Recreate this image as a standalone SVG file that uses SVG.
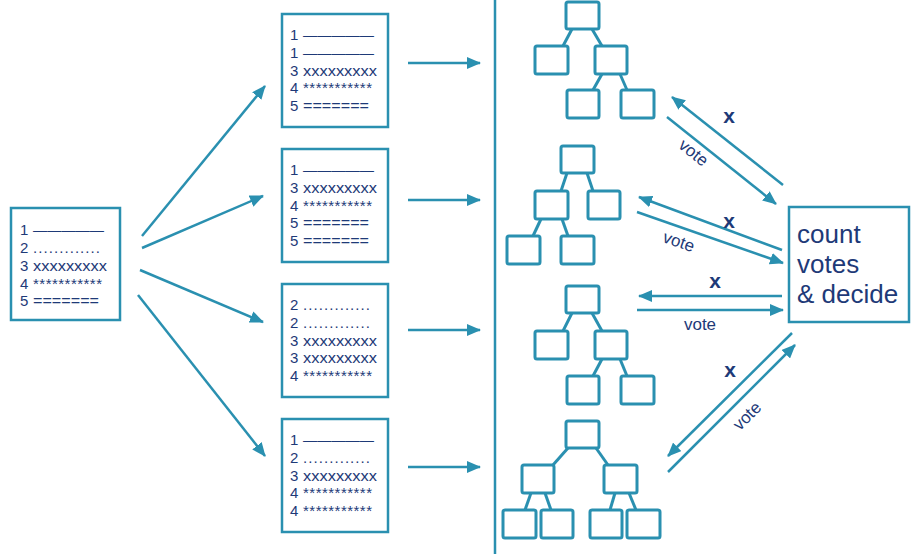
<svg xmlns="http://www.w3.org/2000/svg" width="920" height="554" viewBox="0 0 920 554">
<defs>
<marker id="ah" viewBox="0 0 14 12" markerWidth="14" markerHeight="12" refX="13" refY="6" orient="auto" markerUnits="userSpaceOnUse">
<path d="M0,0 L14,6 L0,12 z" fill="#2a90b0"/>
</marker>
</defs>
<style>
.box{fill:#fff;stroke:#2a90b0;stroke-width:2.5}
.tb{fill:#fff;stroke:#2a90b0;stroke-width:3}
.tl{stroke:#2a90b0;stroke-width:3}
.ln{fill:#1e3a78;font-family:"Liberation Sans",Arial,sans-serif;font-size:15px}
.arr{stroke:#2a90b0;stroke-width:2.5;fill:none;marker-end:url(#ah)}
.x{fill:#1e3a78;font-family:"Liberation Sans",Arial,sans-serif;font-size:21px;font-weight:bold;text-anchor:middle}
.v{fill:#1e3a78;font-family:"Liberation Sans",Arial,sans-serif;font-size:17px;text-anchor:middle}
.big{fill:#1e3a78;font-family:"Liberation Sans",Arial,sans-serif;font-size:26px}
</style>
<rect width="920" height="554" fill="#fff"/>

<g id="data">
<rect class="box" x="11" y="208" width="109" height="112"/>
<text class="ln" x="20" y="235">1</text><text class="ln" x="33" y="235" textLength="71" lengthAdjust="spacingAndGlyphs">—————</text>
<text class="ln" x="20" y="253">2</text><text class="ln" x="33" y="253" textLength="67" lengthAdjust="spacing">.............</text>
<text class="ln" x="20" y="271">3</text><text class="ln" x="33" y="271" textLength="74" lengthAdjust="spacingAndGlyphs">xxxxxxxxx</text>
<text class="ln" x="20" y="289">4</text><text class="ln" x="33" y="289" textLength="69" lengthAdjust="spacing">***********</text>
<text class="ln" x="20" y="306">5</text><text class="ln" x="33" y="306" textLength="66" lengthAdjust="spacingAndGlyphs">=======</text>
</g>

<g id="sample1">
<rect class="box" x="282" y="14" width="106" height="113"/>
<text class="ln" x="290" y="40">1</text><text class="ln" x="303" y="40" textLength="71" lengthAdjust="spacingAndGlyphs">—————</text>
<text class="ln" x="290" y="58">1</text><text class="ln" x="303" y="58" textLength="71" lengthAdjust="spacingAndGlyphs">—————</text>
<text class="ln" x="290" y="75.5">3</text><text class="ln" x="303" y="75.5" textLength="74" lengthAdjust="spacingAndGlyphs">xxxxxxxxx</text>
<text class="ln" x="290" y="93">4</text><text class="ln" x="303" y="93" textLength="69" lengthAdjust="spacing">***********</text>
<text class="ln" x="290" y="111">5</text><text class="ln" x="303" y="111" textLength="66" lengthAdjust="spacingAndGlyphs">=======</text>
</g>

<g id="sample2">
<rect class="box" x="282" y="149" width="106" height="113"/>
<text class="ln" x="290" y="175">1</text><text class="ln" x="303" y="175" textLength="71" lengthAdjust="spacingAndGlyphs">—————</text>
<text class="ln" x="290" y="193">3</text><text class="ln" x="303" y="193" textLength="74" lengthAdjust="spacingAndGlyphs">xxxxxxxxx</text>
<text class="ln" x="290" y="210.5">4</text><text class="ln" x="303" y="210.5" textLength="69" lengthAdjust="spacing">***********</text>
<text class="ln" x="290" y="228">5</text><text class="ln" x="303" y="228" textLength="66" lengthAdjust="spacingAndGlyphs">=======</text>
<text class="ln" x="290" y="246">5</text><text class="ln" x="303" y="246" textLength="66" lengthAdjust="spacingAndGlyphs">=======</text>
</g>

<g id="sample3">
<rect class="box" x="282" y="284" width="106" height="113"/>
<text class="ln" x="290" y="310">2</text><text class="ln" x="303" y="310" textLength="67" lengthAdjust="spacing">.............</text>
<text class="ln" x="290" y="328">2</text><text class="ln" x="303" y="328" textLength="67" lengthAdjust="spacing">.............</text>
<text class="ln" x="290" y="345.5">3</text><text class="ln" x="303" y="345.5" textLength="74" lengthAdjust="spacingAndGlyphs">xxxxxxxxx</text>
<text class="ln" x="290" y="363">3</text><text class="ln" x="303" y="363" textLength="74" lengthAdjust="spacingAndGlyphs">xxxxxxxxx</text>
<text class="ln" x="290" y="381">4</text><text class="ln" x="303" y="381" textLength="69" lengthAdjust="spacing">***********</text>
</g>

<g id="sample4">
<rect class="box" x="282" y="419" width="106" height="113"/>
<text class="ln" x="290" y="445">1</text><text class="ln" x="303" y="445" textLength="71" lengthAdjust="spacingAndGlyphs">—————</text>
<text class="ln" x="290" y="463">2</text><text class="ln" x="303" y="463" textLength="67" lengthAdjust="spacing">.............</text>
<text class="ln" x="290" y="480.5">3</text><text class="ln" x="303" y="480.5" textLength="74" lengthAdjust="spacingAndGlyphs">xxxxxxxxx</text>
<text class="ln" x="290" y="498">4</text><text class="ln" x="303" y="498" textLength="69" lengthAdjust="spacing">***********</text>
<text class="ln" x="290" y="516">4</text><text class="ln" x="303" y="516" textLength="69" lengthAdjust="spacing">***********</text>
</g>

<g id="divider">
<line x1="495" y1="0" x2="495" y2="554" stroke="#2a90b0" stroke-width="2.5"/>
</g>

<g id="tree1">
<line class="tl" x1="572" y1="29" x2="563" y2="46"/><line class="tl" x1="592" y1="29" x2="602" y2="46"/>
<line class="tl" x1="602" y1="74" x2="593" y2="90"/><line class="tl" x1="620" y1="74" x2="627" y2="90"/>
<rect class="tb" x="566" y="2" width="33" height="27" rx="2"/>
<rect class="tb" x="535" y="46" width="33" height="28" rx="2"/>
<rect class="tb" x="595" y="46" width="32" height="28" rx="2"/>
<rect class="tb" x="567" y="90" width="32" height="28" rx="2"/>
<rect class="tb" x="621" y="90" width="33" height="28" rx="2"/>
</g>

<g id="tree2">
<line class="tl" x1="567" y1="173" x2="561" y2="191"/><line class="tl" x1="587" y1="173" x2="593" y2="191"/>
<line class="tl" x1="541" y1="219" x2="533" y2="236"/><line class="tl" x1="562" y1="219" x2="568" y2="236"/>
<rect class="tb" x="561" y="146" width="33" height="27" rx="2"/>
<rect class="tb" x="535" y="191" width="33" height="28" rx="2"/>
<rect class="tb" x="588" y="191" width="32" height="28" rx="2"/>
<rect class="tb" x="507" y="236" width="33" height="28" rx="2"/>
<rect class="tb" x="561" y="236" width="33" height="28" rx="2"/>
</g>

<g id="tree3">
<line class="tl" x1="572" y1="313" x2="563" y2="331"/><line class="tl" x1="592" y1="313" x2="602" y2="331"/>
<line class="tl" x1="602" y1="359" x2="593" y2="376"/><line class="tl" x1="620" y1="359" x2="627" y2="376"/>
<rect class="tb" x="566" y="286" width="33" height="27" rx="2"/>
<rect class="tb" x="535" y="331" width="33" height="28" rx="2"/>
<rect class="tb" x="595" y="331" width="32" height="28" rx="2"/>
<rect class="tb" x="567" y="376" width="32" height="28" rx="2"/>
<rect class="tb" x="621" y="376" width="33" height="28" rx="2"/>
</g>

<g id="tree4">
<line class="tl" x1="568" y1="448" x2="553" y2="465"/><line class="tl" x1="596" y1="448" x2="608" y2="465"/>
<line class="tl" x1="531" y1="493" x2="525" y2="510"/><line class="tl" x1="545" y1="493" x2="551" y2="510"/>
<line class="tl" x1="615" y1="493" x2="610" y2="510"/><line class="tl" x1="629" y1="493" x2="636" y2="510"/>
<rect class="tb" x="566" y="421" width="33" height="27" rx="2"/>
<rect class="tb" x="522" y="465" width="32" height="28" rx="2"/>
<rect class="tb" x="604" y="465" width="33" height="28" rx="2"/>
<rect class="tb" x="503" y="510" width="33" height="28" rx="2"/>
<rect class="tb" x="541" y="510" width="32" height="28" rx="2"/>
<rect class="tb" x="590" y="510" width="32" height="28" rx="2"/>
<rect class="tb" x="627" y="510" width="33" height="28" rx="2"/>
</g>

<g id="decide">
<rect class="box" x="789" y="207" width="120" height="115"/>
<text class="big" x="797" y="243">count</text>
<text class="big" x="797" y="273">votes</text>
<text class="big" x="797" y="303">&amp; decide</text>
</g>

<g id="connectors">
<line class="arr" x1="142" y1="236" x2="265" y2="86"/>
<line class="arr" x1="142" y1="248" x2="263" y2="196"/>
<line class="arr" x1="140" y1="270" x2="263" y2="322"/>
<line class="arr" x1="138" y1="295" x2="265" y2="456"/>
<line class="arr" x1="408" y1="63" x2="480" y2="63"/>
<line class="arr" x1="408" y1="200" x2="480" y2="200"/>
<line class="arr" x1="408" y1="330" x2="480" y2="330"/>
<line class="arr" x1="408" y1="467" x2="480" y2="467"/>

<line class="arr" x1="783" y1="185" x2="672" y2="97"/>
<line class="arr" x1="667" y1="117" x2="776" y2="204"/>
<text class="x" x="729" y="123">x</text>
<text class="v" transform="translate(690,157) rotate(39)">vote</text>

<line class="arr" x1="782" y1="250" x2="639" y2="197"/>
<line class="arr" x1="637" y1="212" x2="783" y2="263"/>
<text class="x" x="729" y="228">x</text>
<text class="v" transform="translate(677,247) rotate(19)">vote</text>

<line class="arr" x1="782" y1="296" x2="639" y2="296"/>
<line class="arr" x1="637" y1="310" x2="783" y2="310"/>
<text class="x" x="715" y="288">x</text>
<text class="v" x="700" y="330">vote</text>

<line class="arr" x1="792" y1="333" x2="668" y2="456"/>
<line class="arr" x1="668" y1="472" x2="795" y2="345"/>
<text class="x" x="730" y="377">x</text>
<text class="v" transform="translate(751,420) rotate(-45)">vote</text>
</g>
</svg>
